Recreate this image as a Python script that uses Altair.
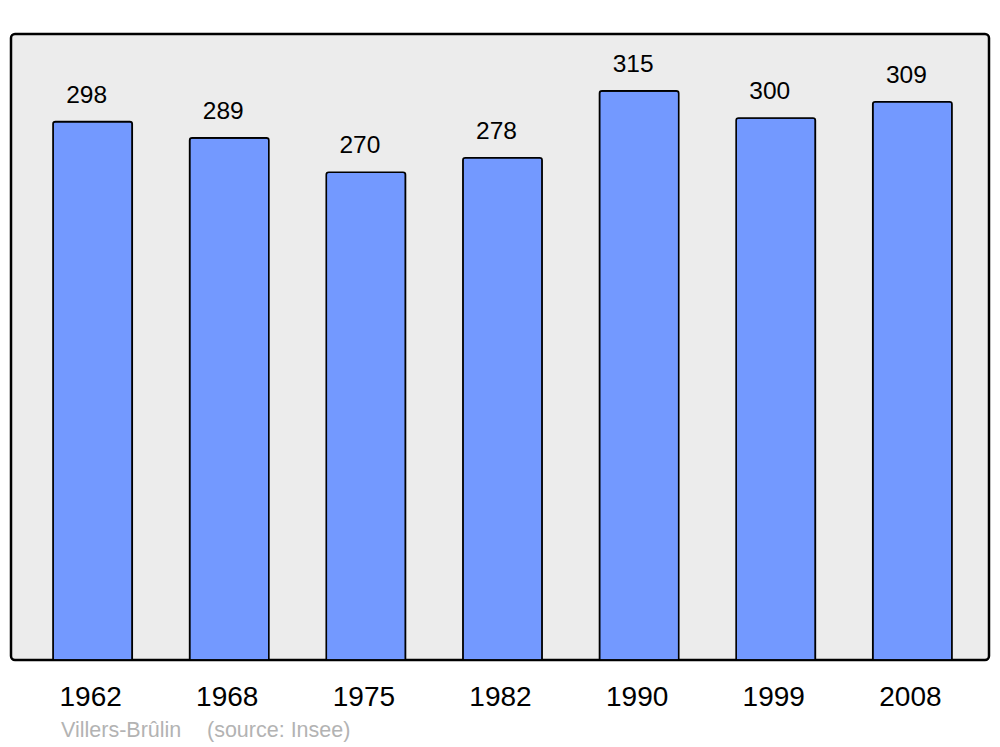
import altair as alt
import pandas as pd

years = ["1962", "1968", "1975", "1982", "1990", "1999", "2008"]
population = [298, 289, 270, 278, 315, 300, 309]
place_label = "Villers-Brûlin"
source_label = "(source: Insee)"

df = pd.DataFrame({"year": years, "pop": population})

x = alt.X("year:N", sort=years, title=None,
          scale=alt.Scale(range=[42, 941], paddingInner=0.42, paddingOuter=0),
          axis=alt.Axis(ticks=False, domain=False, grid=False, labelAngle=0,
                        labelFont="Liberation Sans", labelFontSize=28,
                        labelColor="black", labelBaseline="alphabetic",
                        labelPadding=45, labelOffset=-2))
y = alt.Y("pop:Q", title=None, scale=alt.Scale(domain=[0, 346.5], nice=False, zero=True),
          axis=None)

bars = alt.Chart(df).mark_bar(
    color="#7399ff", stroke="black", strokeWidth=1.6,
    cornerRadiusTopLeft=2.5, cornerRadiusTopRight=2.5
).encode(x=x, y=y)

labels = alt.Chart(df).mark_text(
    font="Liberation Sans", fontSize=24.5, color="black",
    baseline="alphabetic", dy=-19, dx=-6
).encode(x=x, y=y, text="pop:Q")

src_df = pd.DataFrame({"t": [place_label, source_label], "px": [50, 196]})
source = alt.Chart(src_df).mark_text(
    font="Liberation Sans", fontSize=21.5, color="#b3b3b3",
    align="left", baseline="alphabetic"
).encode(x=alt.X("px:Q", scale=None), y=alt.value(703), text="t:N")

chart = alt.layer(bars, labels, source).properties(
    width=978, height=626,
    autosize=alt.AutoSizeParams(type="none"),
    padding={"left": 3, "top": 26, "right": 3, "bottom": 86},
    background="white",
).configure_view(
    fill="#ececec", stroke="black", strokeWidth=2.5, cornerRadius=4
)

chart.save("out.html", embed_options={"renderer": "svg", "actions": False})
